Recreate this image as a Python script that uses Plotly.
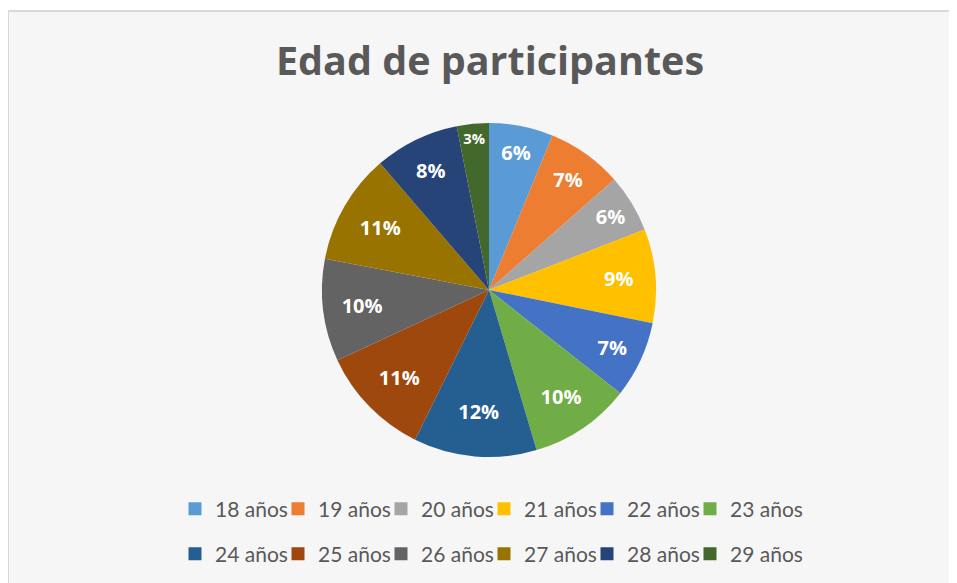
import plotly.graph_objects as go

categories = ["18 años", "19 años", "20 años", "21 años", "22 años", "23 años",
              "24 años", "25 años", "26 años", "27 años", "28 años", "29 años"]
percentages = [6.2, 7.3, 5.6, 9.1, 7.4, 9.8, 11.9, 10.8, 9.9, 10.7, 8.2, 3.1]
colors = ["#5B9BD5", "#ED7D31", "#A5A5A5", "#FFC000", "#4472C4", "#70AD47",
          "#255E91", "#9E480E", "#636363", "#997300", "#264478", "#43682B"]

# page body has an 8px margin; figure coordinates = screen coordinates - 8
OFF = 8
W, H = 957 - OFF, 583 - OFF
cx, cy, r = 489 - OFF, 290 - OFF, 167

fig = go.Figure()
fig.add_trace(go.Pie(
    labels=categories, values=percentages, sort=False, direction="clockwise",
    rotation=0, marker=dict(colors=colors, line=dict(width=0)),
    texttemplate="%{percent:.0%}", textposition="inside",
    insidetextorientation="horizontal",
    textfont=dict(family="Open Sans", size=20, color="white", weight="bold"),
    showlegend=False, hoverinfo="label+percent",
    domain=dict(x=[(cx - r) / W, (cx + r) / W], y=[1 - (cy + r) / H, 1 - (cy - r) / H]),
))

# one small legend per entry, laid out as a 6 x 2 grid
LEG_X0, LEG_DX = 175, 103
LEG_ROWS_Y = [509, 554]
legends = {}
for i, (cat, col) in enumerate(zip(categories, colors)):
    key = "legend" if i == 0 else f"legend{i + 1}"
    fig.add_trace(go.Scatter(
        x=[None], y=[None], mode="markers", name=cat,
        marker=dict(symbol="square", size=13, color=col),
        legend=key,
    ))
    row, colnum = divmod(i, 6)
    legends[key] = dict(
        orientation="h", xanchor="left", yanchor="middle",
        x=(LEG_X0 + colnum * LEG_DX - OFF) / W, y=1 - (LEG_ROWS_Y[row] - OFF) / H,
        font=dict(family="Lato", size=21, color="#595959"),
        bgcolor="rgba(0,0,0,0)", itemwidth=30,
    )

fig.update_layout(
    width=W, height=H,
    margin=dict(l=0, r=0, t=0, b=0),
    paper_bgcolor="white", plot_bgcolor="rgba(0,0,0,0)",
    xaxis=dict(visible=False), yaxis=dict(visible=False),
    title=dict(text="<b>Edad de participantes</b>", x=(490 - OFF) / W, xanchor="center",
               y=1 - (61 - OFF) / H, yanchor="middle",
               font=dict(family="Open Sans", size=39.5, color="#595959")),
    shapes=[dict(type="rect", xref="paper", yref="paper", x0=0, x1=1.1,
                 y0=-0.1, y1=1 - (11 - OFF) / H, fillcolor="#f6f6f6",
                 line=dict(color="#d9d9d9", width=2), layer="below")],
    **legends,
)

fig.write_html("out.html")
